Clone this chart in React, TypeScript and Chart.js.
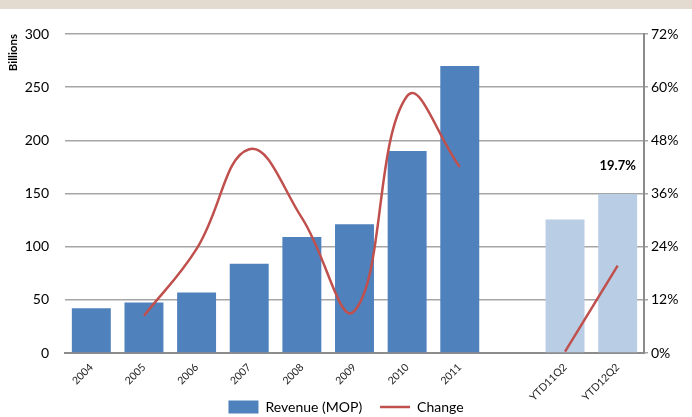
import React, { useEffect, useRef } from "react";
import { Chart, registerables } from "chart.js";

Chart.register(...registerables);

const categories = ["2004", "2005", "2006", "2007", "2008", "2009", "2010", "2011", "", "YTD11Q2", "YTD12Q2"];
const revenue = [42, 47.5, 57, 84, 109, 121, 190, 270, null, 125.5, 149.5];
const change = [null, 8.4, 23.5, 46, 30.5, 9.5, 58, 42, null, 0.3, 19.7];
const leftTicks = { min: 0, max: 300, step: 50 };
const rightTicks = { min: 0, max: 72, step: 12 };

const DARK = "#4F81BD";
const LIGHT = "#B9CDE5";
const RED = "#C0504D";
const GRID = "#A6A6A6";
const FONT = "Lato, 'Open Sans', sans-serif";

const labelPlugin = {
  id: "lastLabel",
  afterDatasetsDraw(chart: any) {
    const i = categories.length - 1;
    const x = chart.scales.x.getPixelForValue(i);
    const y = chart.scales.y.getPixelForValue(revenue[i] as number) - 28;
    const ctx = chart.ctx;
    ctx.save();
    ctx.font = `bold 13px ${FONT}`;
    ctx.fillStyle = "#000";
    ctx.textAlign = "center";
    ctx.textBaseline = "middle";
    ctx.fillText(`${change[i]}%`, x, y);
    ctx.restore();
  },
};

export default function App() {
  const ref = useRef<HTMLCanvasElement>(null);
  useEffect(() => {
    if (!ref.current) return;
    const defaultLabels = (Chart.defaults as any).plugins.legend.labels.generateLabels;
    const chart = new Chart(ref.current, {
      type: "bar",
      data: {
        labels: categories,
        datasets: [
          {
            type: "bar",
            label: "Revenue (MOP)",
            data: revenue,
            backgroundColor: (c: any) => (String(categories[c.dataIndex]).startsWith("YTD") ? LIGHT : DARK),
            borderWidth: 0,
            barPercentage: 0.74,
            categoryPercentage: 1,
            yAxisID: "y",
            order: 2,
            pointStyle: "rect",
          } as any,
          {
            type: "line",
            label: "Change",
            data: change,
            borderColor: RED,
            backgroundColor: RED,
            borderWidth: 2.5,
            pointRadius: 0,
            tension: 0.42,
            spanGaps: false,
            yAxisID: "y1",
            order: 1,
            pointStyle: "line",
          } as any,
        ],
      },
      options: {
        responsive: false,
        animation: false,
        layout: { padding: { top: 34, left: 0, right: 0, bottom: -7 } },
        plugins: {
          tooltip: { enabled: false },
          legend: {
            position: "bottom",
            labels: {
              usePointStyle: true,
              pointStyleWidth: 30,
              boxHeight: 13,
              padding: 0,
              color: "#000",
              font: { family: FONT, size: 14 },
              sort: (a: any, b: any) => a.datasetIndex - b.datasetIndex,
              generateLabels: (ch: any) =>
                defaultLabels(ch).map((l: any) => (l.datasetIndex === 0 ? { ...l, text: l.text + "     " } : l)),
            },
          },
        },
        scales: {
          x: {
            grid: { display: true, drawOnChartArea: false, drawTicks: false },
            border: { display: true, color: "#8C8C8C", width: 2 },
            ticks: {
              minRotation: 45,
              maxRotation: 45,
              padding: 8,
              color: "#222",
              font: { family: FONT, size: 10.5 },
              autoSkip: false,
            },
            afterFit: (s: any) => {
              s.height = 47;
            },
          },
          y: {
            position: "left",
            min: leftTicks.min,
            max: leftTicks.max,
            ticks: { stepSize: leftTicks.step, padding: 16, color: "#000", font: { family: FONT, size: 14 } },
            grid: { color: GRID, lineWidth: 1.5, drawTicks: false },
            border: { display: false },
            title: {
              display: true,
              text: "Billions",
              align: "end",
              color: "#000",
              font: { family: FONT, size: 11.5, weight: "bold" },
              padding: { top: 6, bottom: 0 },
            },
            afterFit: (s: any) => {
              s.width = 65;
            },
          },
          y1: {
            position: "right",
            min: rightTicks.min,
            max: rightTicks.max,
            ticks: {
              stepSize: rightTicks.step,
              padding: 3,
              color: "#000",
              font: { family: FONT, size: 14 },
              callback: (v: any) => `${v}%`,
            },
            grid: { drawOnChartArea: false, drawTicks: true, tickLength: 4, color: GRID, lineWidth: 1.5 },
            border: { display: true, color: "#8C8C8C", width: 2 },
            afterFit: (s: any) => {
              s.width = 48;
            },
          },
        },
      } as any,
      plugins: [labelPlugin],
    });
    return () => chart.destroy();
  }, []);

  return (
    <div style={{ position: "fixed", left: 0, top: 0, width: 692, height: 417, background: "#fff" }}>
      <div style={{ position: "absolute", left: 0, top: 0, width: 692, height: 9, background: "#E3DBD0" }} />
      <canvas ref={ref} width={692} height={417} style={{ position: "absolute", left: 0, top: 0, display: "block" }} />
    </div>
  );
}
